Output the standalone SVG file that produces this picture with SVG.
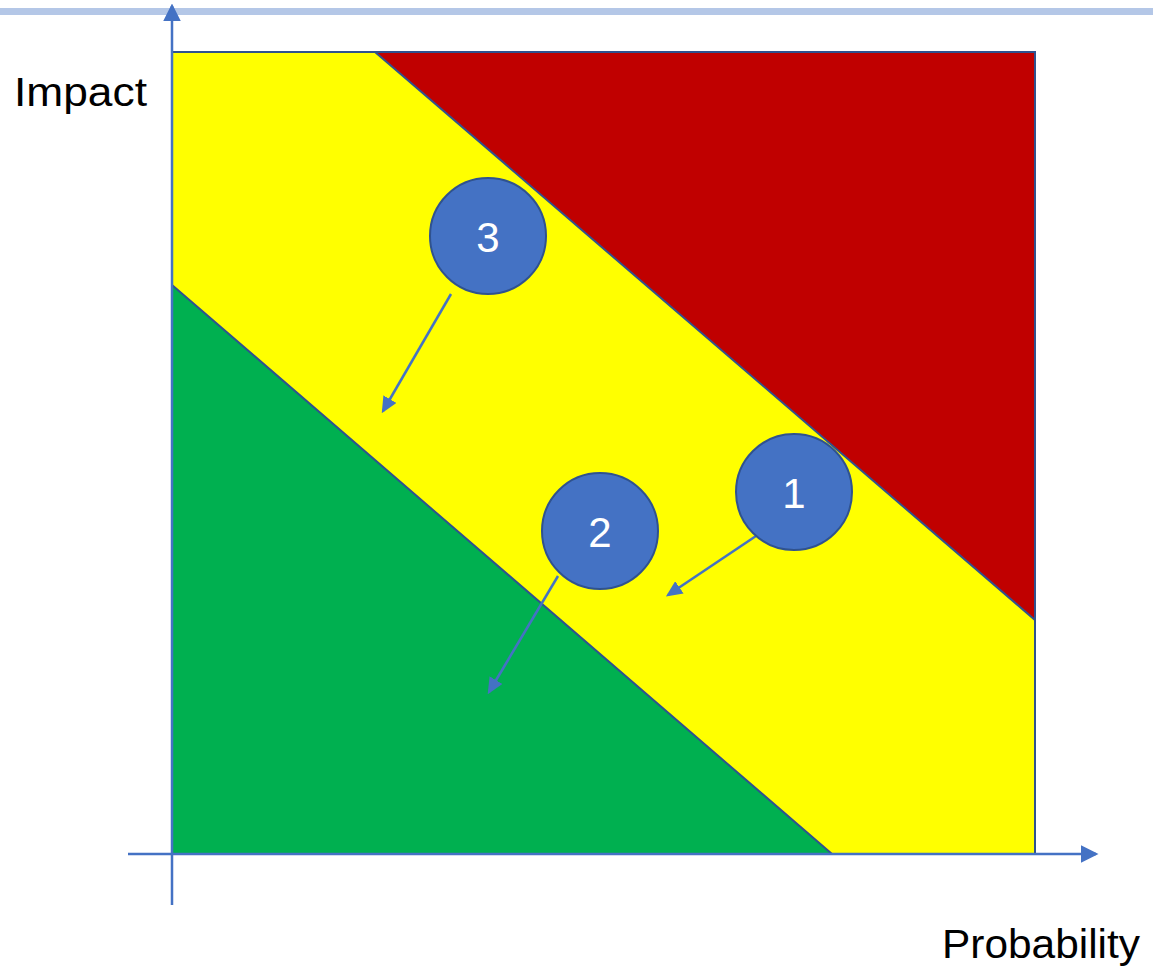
<svg xmlns="http://www.w3.org/2000/svg" width="1153" height="968" viewBox="0 0 1153 968">
<style>
.zone{stroke:#2f528f;stroke-width:2;stroke-linejoin:miter}
.axis{stroke:#4472c4;stroke-width:2.5;fill:none}
.node circle{fill:#4472c4;stroke:#2f528f;stroke-width:2}
.node text{font-family:"Liberation Sans",Arial,sans-serif;font-size:42px;fill:#ffffff;text-anchor:middle}
.lbl{font-family:"Liberation Sans",Arial,sans-serif;font-size:40px;fill:#000000}
.conn{stroke:#4472c4;stroke-width:2.5;fill:none;marker-end:url(#ah)}
</style>
<defs>
<marker id="ah" markerWidth="6.5" markerHeight="6" refX="5.5" refY="3" orient="auto" markerUnits="strokeWidth"><path d="M0,0 L6.5,3 L0,6 z" fill="#4472c4"/></marker>
<marker id="axh" markerWidth="7" markerHeight="7" refX="6" refY="3.5" orient="auto" markerUnits="strokeWidth"><path d="M0,0 L7,3.5 L0,7 z" fill="#4472c4"/></marker>
</defs>
<rect x="0" y="8" width="1153" height="7" fill="#b4c7e7"/>
<g id="zones">
<polygon class="zone" points="172,52 1035,52 1035,854 172,854" fill="#ffff00"/>
<polygon class="zone" points="375,52 1035,52 1035,620" fill="#c00000"/>
<polygon class="zone" points="172,285 832,854 172,854" fill="#00b050"/>
</g>
<g id="axes">
<line class="axis" x1="172" y1="905" x2="172" y2="6" marker-end="url(#axh)"/>
<line class="axis" x1="128" y1="854" x2="1096" y2="854" marker-end="url(#axh)"/>
</g>
<text id="impact" class="lbl" x="14" y="106" textLength="133" lengthAdjust="spacingAndGlyphs">Impact</text>
<text id="probability" class="lbl" x="942" y="958" textLength="198" lengthAdjust="spacingAndGlyphs">Probability</text>
<g id="connectors">
<line class="conn" x1="451" y1="294" x2="383" y2="411"/>
<line class="conn" x1="756" y1="536" x2="668" y2="595"/>
<line class="conn" x1="558" y1="576" x2="489" y2="692"/>
</g>
<g id="node3" class="node"><circle cx="488" cy="236" r="58"/><text x="488" y="252">3</text></g>
<g id="node2" class="node"><circle cx="600" cy="531" r="58"/><text x="600" y="547">2</text></g>
<g id="node1" class="node"><circle cx="794" cy="492" r="58"/><text x="794" y="508">1</text></g>
</svg>
